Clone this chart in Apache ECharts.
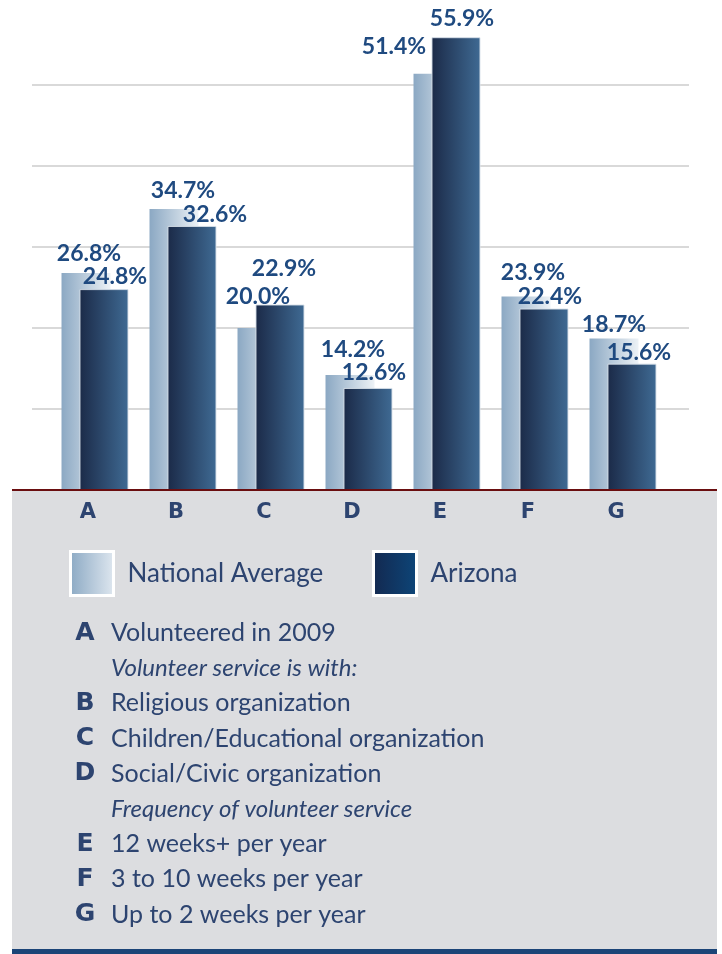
<!DOCTYPE html>
<html>
<head>
<meta charset="utf-8">
<script src="https://cdn.jsdelivr.net/npm/echarts@6/dist/echarts.min.js"></script>
<style>
  html, body { margin: 0; padding: 0; background: #fff; }
  #chart { width: 722px; height: 954px; }
</style>
</head>
<body>
<div id="chart"></div>
<script>
// data
var categories = ['A', 'B', 'C', 'D', 'E', 'F', 'G'];
var nationalAverage = [26.8, 34.7, 20.0, 14.2, 51.4, 23.9, 18.7];
var arizona = [24.8, 32.6, 22.9, 12.6, 55.9, 22.4, 15.6];
var seriesNames = ['National Average', 'Arizona'];
var keyLines = [
  ['A', 'Volunteered in 2009', false],
  ['', 'Volunteer service is with:', true],
  ['B', 'Religious organization', false],
  ['C', 'Children/Educational organization', false],
  ['D', 'Social/Civic organization', false],
  ['', 'Frequency of volunteer service', true],
  ['E', '12 weeks+ per year', false],
  ['F', '3 to 10 weeks per year', false],
  ['G', 'Up to 2 weeks per year', false]
];

// little nudges so value labels sit where the original put them
var nationalNudge = [[3, -8], [9, -7], [-4, -20], [3, -14], [-44, -16], [7, -12], [0, -2]];
var arizonaNudge = [[11, -1], [23, 0], [4, -24], [6, -4], [6, -7], [6, 0], [7, 0]];

var textBlue = '#2d4470';
var labelBlue = '#1f4a80';
var heavyFont = '"DejaVu Sans", Verdana, sans-serif';

function grad(a, b) {
  return new echarts.graphic.LinearGradient(0, 0, 1, 0, [
    { offset: 0, color: a },
    { offset: 1, color: b }
  ]);
}

var valueLabel = {
  show: true,
  position: 'top',
  distance: 0,
  fontFamily: 'Lato',
  fontWeight: 'bold',
  fontSize: 23,
  color: labelBlue,
  formatter: function (p) { return p.value.toFixed(1) + '%'; }
};

var graphics = [
  { type: 'rect', z: -10, shape: { x: 12, y: 490, width: 705, height: 459 }, style: { fill: '#dcdde0' } },
  { type: 'rect', z: -10, shape: { x: 12, y: 949, width: 705, height: 5 }, style: { fill: '#1b4477' } },
  { type: 'line', z: 50, shape: { x1: 12, y1: 490, x2: 717, y2: 490 }, style: { stroke: '#6a0e10', lineWidth: 2.2 } }
];
keyLines.forEach(function (row, i) {
  var y = 633 + i * 35.2;
  if (row[0]) {
    graphics.push({
      type: 'text', z: 50,
      style: { text: row[0], x: 85, y: y, align: 'center', verticalAlign: 'middle',
        font: 'bold 25px ' + heavyFont, fill: textBlue }
    });
  }
  graphics.push({
    type: 'text', z: 50,
    style: { text: row[1], x: 111, y: y, align: 'left', verticalAlign: 'middle',
      font: (row[2] ? 'italic 24px Lato' : '25px Lato'), fill: textBlue }
  });
});

var legendBase = {
  orient: 'horizontal',
  top: 550,
  padding: 0,
  icon: 'rect',
  itemWidth: 43,
  itemHeight: 44,
  selectedMode: false,
  itemStyle: { borderColor: '#ffffff', borderWidth: 3 },
  textStyle: { fontFamily: 'Lato', fontSize: 26, color: textBlue, padding: [4, 0, 0, 9] }
};

var chart = echarts.init(document.getElementById('chart'));
chart.setOption({
  backgroundColor: '#ffffff',
  animation: false,
  grid: [
    { left: 32, right: 33, top: 4, bottom: 464 },
    { left: 51, right: 55, top: 4, bottom: 464 }
  ],
  legend: [
    Object.assign({}, legendBase, {
      left: 69,
      data: [{ name: seriesNames[0], itemStyle: { color: grad('#8aa8c3', '#e0e8f0') } }]
    }),
    Object.assign({}, legendBase, {
      left: 372,
      data: [{ name: seriesNames[1], itemStyle: { color: grad('#13284f', '#0d4679') } }]
    })
  ],
  xAxis: [
    { gridIndex: 0, type: 'value', min: 0, max: 1, show: false },
    {
      gridIndex: 1, type: 'category', data: categories,
      axisLine: { show: false }, axisTick: { show: false },
      axisLabel: { margin: 12, fontFamily: heavyFont, fontWeight: 'bold', fontSize: 21,
        color: textBlue, padding: [0, 14, 0, 0] }
    }
  ],
  yAxis: [
    {
      gridIndex: 0, type: 'value', min: 0, max: 60, interval: 10,
      axisLine: { show: false }, axisTick: { show: false }, axisLabel: { show: false },
      splitLine: { show: true, showMaxLine: false, lineStyle: { color: '#cccccc', width: 1.5 } }
    },
    { gridIndex: 1, type: 'value', min: 0, max: 60, interval: 10, show: false }
  ],
  series: [
    {
      name: seriesNames[0], type: 'bar', xAxisIndex: 1, yAxisIndex: 1,
      barWidth: 49, barGap: '-63.3%',
      itemStyle: { color: grad('#8ba8c3', '#edf2f6') },
      label: valueLabel,
      data: nationalAverage.map(function (v, i) {
        return { value: v, label: { offset: nationalNudge[i] } };
      })
    },
    {
      name: seriesNames[1], type: 'bar', xAxisIndex: 1, yAxisIndex: 1,
      barWidth: 49,
      itemStyle: { color: grad('#1b2a48', '#3f6a93'), borderColor: 'rgba(215,224,233,0.9)', borderWidth: 1 },
      label: valueLabel,
      data: arizona.map(function (v, i) {
        return { value: v, label: { offset: arizonaNudge[i] } };
      })
    }
  ],
  graphic: graphics
});
</script>
</body>
</html>
